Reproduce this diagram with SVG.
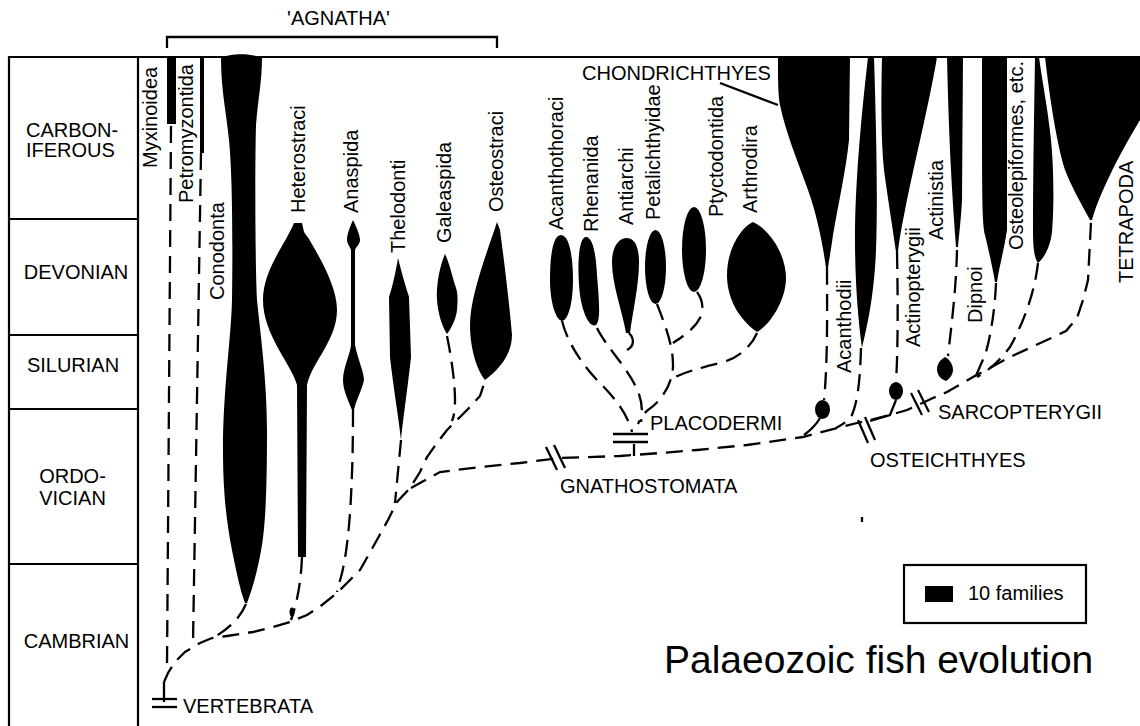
<svg xmlns="http://www.w3.org/2000/svg" width="1140" height="726" viewBox="0 0 1140 726">
<style>
text{font-family:"Liberation Sans",Arial,Helvetica,sans-serif;font-size:20px;fill:#000}
.t{font-size:39px}
.grid{stroke:#000;stroke-width:2.2;fill:none}
.fill{fill:#000;stroke:none}
.d{fill:none;stroke:#000;stroke-width:2.3;stroke-dasharray:17 9}
.s{fill:none;stroke:#000;stroke-width:2.3}
</style>
<rect width="1140" height="726" fill="#fff"/>
<g id="timescale">
<line class="grid" x1="9" y1="57" x2="1140" y2="57"/>
<line class="grid" x1="9" y1="56" x2="9" y2="726"/>
<line class="grid" x1="138" y1="56" x2="138" y2="726"/>
<line class="grid" x1="9" y1="219" x2="138" y2="219"/>
<line class="grid" x1="9" y1="335" x2="138" y2="335"/>
<line class="grid" x1="9" y1="409" x2="138" y2="409"/>
<line class="grid" x1="9" y1="564" x2="138" y2="564"/>
<text x="26" y="137">CARBON-</text>
<text x="26" y="157">IFEROUS</text>
<text x="76" y="279" text-anchor="middle">DEVONIAN</text>
<text x="73" y="372" text-anchor="middle">SILURIAN</text>
<text x="72.5" y="483" text-anchor="middle">ORDO-</text>
<text x="72.5" y="505" text-anchor="middle">VICIAN</text>
<text x="76.5" y="648" text-anchor="middle">CAMBRIAN</text>
</g>
<g id="agnatha">
<path class="s" d="M167,48 V37 H497 V48"/>
<text x="338.5" y="25" text-anchor="middle">'AGNATHA'</text>
</g>
<g id="myxinoidea">
<rect class="fill" x="167" y="57" width="9" height="67"/>
<text transform="translate(157,168) rotate(-90)">Myxinoidea</text>
</g>
<g id="petromyzontida">
<rect class="fill" x="200" y="57" width="4" height="96"/>
<text transform="translate(193,203) rotate(-90)">Petromyzontida</text>
</g>
<g id="conodonta">
<path class="fill" d="M221,58 C230,53 252,53 262,58 C262,80 258,100 256,125 C255,160 255,260 257,300 C260,330 267,380 267,430 C267,480 266,520 262,545 C258,570 252,590 247,603 L245,603 C240,590 236,570 233,555 C228,530 223,500 223,450 C223,390 231,340 232,300 C233,230 232,170 229,140 C226,110 221,90 221,58 Z"/>
<text transform="translate(224,300) rotate(-90)">Conodonta</text>
</g>
<g id="heterostraci">
<path class="fill" d="M294,223 L302,223 L304,232 L309,239 C318,255 337,285 337,310 C337,340 312,362 307,385 L306,557 L298,557 L297,385 C292,365 263,335 263,300 C263,270 285,245 294,223 Z"/>
<text transform="translate(305,213) rotate(-90)">Heterostraci</text>
</g>
<g id="anaspida">
<path class="fill" d="M353,220 C357,228 360,236 360,240 C360,244 356,247 355,250 L355,345 C358,360 364,372 364,380 C362,390 356,400 354,410 L352,410 C348,400 343,390 343,380 C343,368 350,355 351,345 L351,250 C350,247 347,243 347,240 C347,234 350,227 353,220 Z"/>
<text transform="translate(358,213) rotate(-90)">Anaspida</text>
</g>
<g id="thelodonti">
<path class="fill" d="M398,258 C401,270 405,285 409,297 L411,357 C408,385 403,420 401,440 C399,420 393,385 390,357 L389,297 C393,285 396,270 398,258 Z"/>
<text transform="translate(405,253) rotate(-90)">Thelodonti</text>
</g>
<g id="galeaspida">
<path class="fill" d="M445,254 C449,262 452,275 455,285 C458,292 458,300 457,310 C456,320 450,330 447,334 C443,328 438,315 437,300 C436,285 440,265 445,254 Z"/>
<text transform="translate(451,243) rotate(-90)">Galeaspida</text>
</g>
<g id="osteostraci">
<path class="fill" d="M497,222 L500,230 C504,260 509,300 512,335 C512,355 498,370 485,380 C478,372 470,350 470,325 C470,295 488,250 497,222 Z"/>
<text transform="translate(503,212) rotate(-90)">Osteostraci</text>
</g>
<g id="acanthothoraci">
<path class="fill" d="M561,235 C570,235 573,260 573,280 C573,300 569,320 562,321 C555,320 550,300 550,280 C550,255 553,235 561,235 Z"/>
<text transform="translate(563,230) rotate(-90)">Acanthothoraci</text>
</g>
<g id="rhenanida">
<path class="fill" d="M586,237 C593,237 596,255 597,275 C599,300 601,320 596,325 C590,328 583,315 580,295 C577,270 578,237 586,237 Z"/>
<text transform="translate(598,232) rotate(-90)">Rhenanida</text>
</g>
<g id="antiarchi">
<path class="fill" d="M627,238 C636,238 639,250 639,262 C639,285 633,310 630,333 L626,333 C622,310 612,285 612,262 C612,248 618,238 627,238 Z"/>
<text transform="translate(633,225) rotate(-90)">Antiarchi</text>
</g>
<g id="petalichthyidae">
<ellipse class="fill" cx="655.5" cy="267" rx="10.5" ry="37"/>
<text transform="translate(660,220) rotate(-90)">Petalichthyidae</text>
</g>
<g id="ptyctodontida">
<ellipse class="fill" cx="694" cy="249.5" rx="12" ry="42.5"/>
<text transform="translate(723,217) rotate(-90)">Ptyctodontida</text>
</g>
<g id="arthrodira">
<path class="fill" d="M753,222 C770,230 786,255 786,278 C786,300 770,325 757,332 C740,320 727,300 727,275 C727,250 740,228 753,222 Z"/>
<text transform="translate(757,213) rotate(-90)">Arthrodira</text>
</g>
<g id="placodermi">
<line class="s" x1="613" y1="434" x2="648" y2="434"/>
<line class="s" x1="613" y1="442" x2="648" y2="442"/>
<text x="650" y="430">PLACODERMI</text>
</g>
<g id="chondrichthyes">
<path class="fill" d="M778,57 L850,57 L849,140 C846,170 838,205 833,235 C831,250 829,260 828,268 L826,268 C823,245 817,215 808,190 C797,160 785,130 780,105 C778,95 778,80 778,57 Z"/>
<ellipse class="fill" cx="822.5" cy="409.5" rx="7.5" ry="9.5"/>
<line class="s" x1="720" y1="83" x2="778" y2="105"/>
<text x="582" y="80">CHONDRICHTHYES</text>
</g>
<g id="acanthodii">
<path class="fill" d="M868,57 L874,57 C876,120 878,200 876,250 C874,300 866,330 862,348 C858,320 855,280 855,240 C855,180 862,110 868,57 Z"/>
<text transform="translate(851,373) rotate(-90)">Acanthodii</text>
</g>
<g id="actinopterygii">
<path class="fill" d="M882,57 L937,57 C930,100 915,160 905,210 C901,230 899,242 898,252 L896,252 C893,230 888,200 884,170 C881,140 881,100 882,57 Z"/>
<ellipse class="fill" cx="896" cy="391" rx="7" ry="9"/>
<text transform="translate(920,347) rotate(-90)">Actinopterygii</text>
</g>
<g id="actinistia">
<path class="fill" d="M947,57 L963,57 L962,200 C961,220 959,235 958,247 L956,247 C954,220 952,190 951,170 C949,130 948,100 947,57 Z"/>
<path class="fill" d="M945,357 C951,360 953,366 953,370 C953,375 949,379 946,381 C940,379 937,374 937,369 C937,364 940,360 945,357 Z"/>
<text transform="translate(943,240) rotate(-90)">Actinistia</text>
</g>
<g id="sarcopterygii">
<line class="s" x1="911" y1="393" x2="922" y2="415"/>
<line class="s" x1="918" y1="390" x2="929" y2="412"/>
<text x="938" y="419">SARCOPTERYGII</text>
</g>
<g id="dipnoi">
<path class="fill" d="M982,57 L1007,57 L1007,230 C1004,250 999,268 997,282 L995,282 C992,265 989,252 985,235 C982,220 982,200 982,57 Z"/>
<text transform="translate(982,323) rotate(-90)">Dipnoi</text>
</g>
<g id="osteolepiformes">
<path class="fill" d="M1035,57 L1039,57 C1042,80 1048,110 1051,140 C1054,170 1054,210 1052,232 C1050,248 1044,258 1038,263 C1034,258 1033,245 1033,230 C1033,180 1034,120 1035,57 Z"/>
<text transform="translate(1023,250) rotate(-90)">Osteolepiformes, etc.</text>
</g>
<g id="tetrapoda">
<path class="fill" d="M1045,57 L1140,57 L1140,120 C1128,140 1118,158 1110,175 C1102,192 1096,205 1092,220 L1090,220 C1082,205 1072,188 1065,170 C1057,145 1050,100 1045,57 Z"/>
<text transform="translate(1133,283) rotate(-90)">TETRAPODA</text>
</g>
<g id="osteichthyes">
<line class="s" x1="858" y1="420" x2="868" y2="443"/>
<line class="s" x1="865" y1="417" x2="875" y2="440"/>
<text x="870" y="467">OSTEICHTHYES</text>
</g>
<g id="gnathostomata">
<line class="s" x1="546" y1="447" x2="557" y2="470"/>
<line class="s" x1="554" y1="445" x2="565" y2="468"/>
<text x="560" y="493">GNATHOSTOMATA</text>
</g>
<g id="vertebrata">
<line class="s" x1="164" y1="682" x2="164" y2="702"/>
<line class="s" x1="152" y1="699" x2="177" y2="699"/>
<line class="s" x1="152" y1="707" x2="177" y2="707"/>
<text x="183" y="713">VERTEBRATA</text>
</g>
<g id="legend">
<rect x="904" y="565" width="182" height="58" fill="none" stroke="#000" stroke-width="2.2"/>
<rect class="fill" x="925" y="586" width="28" height="16"/>
<text x="968" y="600">10 families</text>
</g>
<g id="title">
<text class="t" x="664" y="673">Palaeozoic fish evolution</text>
</g>
<g id="connectors">
<path class="d" d="M171,126 L167,665"/>
<path class="d" d="M201,153 L193,643"/>
<path class="d" d="M164,682 L168,673 L175,662 L185,652 L200,643 L212,638 L227,636 L253,632 L273,627 L290,622 L307,615 L322,605 L337,593 L347,583 L360,570 L373,547 L388,520 L397,502 L410,488 L420,472 L427,457 L437,443 L447,430 L460,417 L470,407 L480,396 L485,381"/>
<path class="d" d="M246,604 C240,618 230,628 213,638"/>
<path class="d" d="M302,557 C301,580 298,600 291,620"/>
<ellipse class="fill" cx="292" cy="612" rx="2.5" ry="4.5"/>
<path class="d" d="M353,410 C353,480 350,540 342,573 L337,592"/>
<path class="d" d="M401,440 L395,503"/>
<path class="d" d="M447,336 C452,360 455,385 455,400 C455,410 454,416 452,421"/>
<path class="d" d="M411,488 L440,472 L480,467 L520,463 L560,458 L620,456 L660,453 L697,450 L747,445 L803,437 L837,428 L857,423 L870,420 L890,415 L907,410 L933,398 L947,392 L973,377 L1010,357 L1047,340 L1066,331 L1077,318 L1083,300 L1088,280 L1091,222"/>
<path class="d" d="M827,268 C827,300 828,360 824,400"/>
<path class="s" d="M820,418 C816,425 811,430 804,435"/>
<path class="d" d="M861,348 C860,380 858,400 852,415 C847,422 842,425 836,428"/>
<path class="d" d="M897,252 C898,300 898,350 896,382"/>
<path class="s" d="M896,400 L890,415 L870,421"/>
<path class="d" d="M957,250 C956,290 952,320 948,356"/>
<path class="d" d="M996,283 C995,310 990,340 985,355 L975,378"/>
<path class="d" d="M1038,263 C1035,290 1025,320 1010,347 C1000,360 990,370 977,377"/>
<path class="d" d="M562,321 C568,345 585,368 600,383 C615,398 628,415 632,432"/>
<path class="d" d="M597,328 C605,345 625,365 635,385 C642,398 643,410 641,422"/>
<path class="s" d="M629,333 C634,338 635,346 627,350"/>
<path class="d" d="M657,304 C665,325 673,345 673,365 C673,385 660,402 648,410 C643,414 640,419 638,424"/>
<path class="d" d="M697,292 C703,300 704,310 700,318 C695,328 685,335 673,343"/>
<path class="d" d="M757,333 C752,345 740,358 720,363 C700,368 685,372 673,378"/>
<path class="s" d="M634,444 L634,456"/>
<line class="s" x1="862" y1="517" x2="862" y2="522"/>
</g>
</svg>
